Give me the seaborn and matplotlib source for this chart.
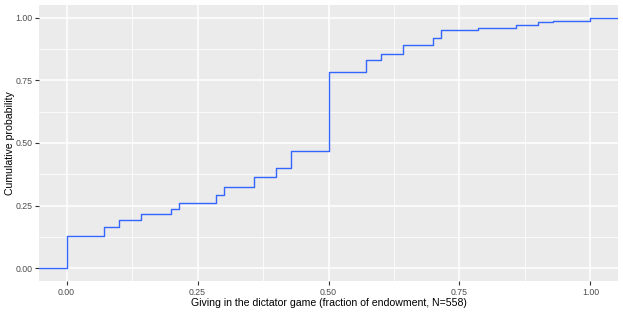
import numpy as np
import seaborn as sns
import matplotlib.pyplot as plt
from matplotlib.ticker import MultipleLocator

# giving levels (fraction of endowment) and number of subjects at each level
giving = [0, 1/14, 0.1, 1/7, 0.2, 3/14, 2/7, 0.3, 5/14, 0.4, 3/7, 0.5,
          4/7, 0.6, 9/14, 0.7, 5/7, 11/14, 6/7, 0.9, 13/14, 1.0]
counts = [72, 21, 14, 15, 11, 13, 17, 19, 21, 20, 38, 177,
          26, 13, 20, 15, 18, 5, 7, 5, 3, 8]

xticks = [0.0, 0.25, 0.5, 0.75, 1.0]
yticks = [0.0, 0.25, 0.5, 0.75, 1.0]
line_color = '#3366FF'

sns.set_style('darkgrid', {'axes.facecolor': '#EBEBEB', 'grid.color': 'white'})
plt.rcParams['font.family'] = ['Liberation Sans', 'DejaVu Sans']

fig = plt.figure(figsize=(6.23, 3.12), dpi=100, facecolor='white')
ax = fig.add_axes([39/623, 1 - 281/312, (618 - 39)/623, (281 - 5)/312])

sns.ecdfplot(x=giving, weights=counts, ax=ax, color=line_color, linewidth=1.0)

xlim = (-0.0525, 1.0525)
ylim = (-0.05, 1.05)
ax.set_xlim(xlim)
ax.set_ylim(ylim)

# ggplot's stat_ecdf pads the step out to both panel edges
ax.plot([xlim[0], giving[0]], [0.0, 0.0], color=line_color, linewidth=1.0)
ax.plot([giving[-1], xlim[1]], [1.0, 1.0], color=line_color, linewidth=1.0)

ax.set_xticks(xticks)
ax.set_yticks(yticks)
ax.set_xticklabels(['%.2f' % t for t in xticks])
ax.set_yticklabels(['%.2f' % t for t in yticks])
ax.xaxis.set_minor_locator(MultipleLocator(0.125))
ax.yaxis.set_minor_locator(MultipleLocator(0.125))
ax.grid(which='major', color='white', linewidth=1.1)
ax.grid(which='minor', color='white', linewidth=0.55)
ax.tick_params(which='major', length=2.7, width=0.8, color='#333333',
               labelcolor='#4D4D4D', labelsize=6.3, pad=2, bottom=True, left=True)
ax.tick_params(which='minor', length=0, bottom=False, left=False)
for s in ax.spines.values():
    s.set_visible(False)

ax.set_xlabel('Giving in the dictator game (fraction of endowment, N=558)',
              fontsize=7.6, color='black', labelpad=1)
ax.set_ylabel('Cumulative probability', fontsize=7.6, color='black', labelpad=0.5)

fig.savefig('out.png', dpi=100)
